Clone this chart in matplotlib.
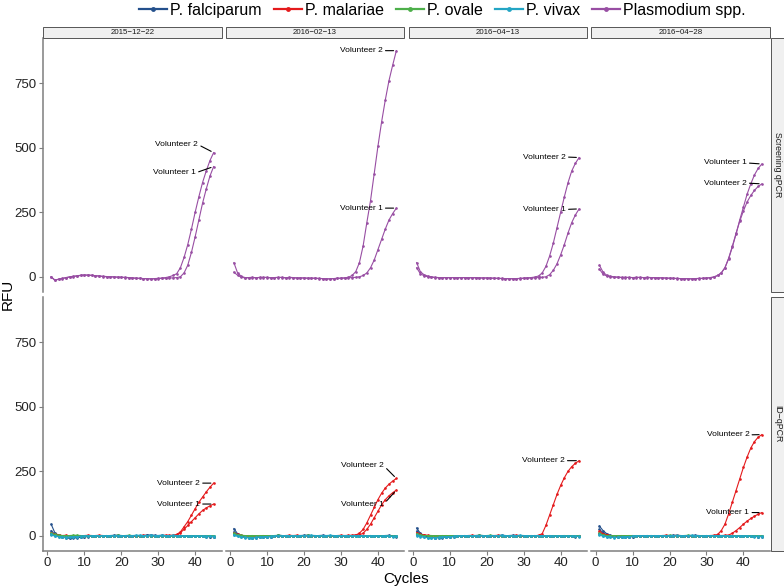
import matplotlib
matplotlib.use('Agg')
import matplotlib.pyplot as plt
from matplotlib.lines import Line2D
from matplotlib.patches import Rectangle

plt.rcParams['font.family'] = ['Liberation Sans', 'DejaVu Sans']

# ---------------- data ----------------
cycles = list(range(1, 46))
dates = ['2015\u221212\u221222', '2016\u221202\u221213', '2016\u221204\u221213', '2016\u221204\u221228']
assays = ['Screening qPCR', 'ID\u2212qPCR']
species = ['P. falciparum', 'P. malariae', 'P. ovale', 'P. vivax', 'Plasmodium spp.']
species_colors = ['#24508c', '#e41a1c', '#4daf4a', '#23a5c4', '#984ea3']
volunteers = ['Volunteer 1', 'Volunteer 2']
x_ticks = [0, 10, 20, 30, 40]
y_ticks = [0, 250, 500, 750]

# Screening qPCR (Plasmodium spp.)
spp_d1_v1 = [0, -12, -10, -7, -4, -1, 1, 3, 5, 6, 6, 5, 4, 3, 2, 1, 0, 0, -1, -2,
             -2, -3, -4, -5, -6, -7, -7, -8, -8, -7, -6, -5, -5, -4, -3, 0, 15, 45, 95, 155,
             220, 285, 340, 390, 427]
spp_d1_v2 = [0, -14, -9, -6, -3, 0, 2, 4, 6, 7, 7, 6, 4, 3, 1, 0, 0, -1, -2, -2,
             -3, -4, -5, -6, -6, -7, -8, -8, -7, -6, -5, -3, 0, 5, 12, 35, 75, 125, 185, 250,
             310, 365, 410, 450, 481]
spp_d2_v1 = [55, 15, 2, -3, -4, -3, -4, -2, -3, -2, -4, -3, -2, -3, -4, -2, -3, -4, -5, -4,
             -5, -6, -5, -6, -7, -8, -8, -7, -6, -6, -5, -4, -3, -2, 0, 5, 15, 35, 65, 105,
             145, 185, 220, 245, 266]
spp_d2_v2 = [18, 6, -2, -4, -3, -2, -4, -3, -2, -3, -4, -3, -3, -2, -4, -3, -4, -5, -4, -5,
             -6, -5, -6, -7, -7, -8, -8, -7, -6, -5, -4, -2, 5, 20, 55, 120, 210, 295, 400, 505,
             600, 685, 760, 820, 876]
spp_d3_v1 = [55, 20, 8, 3, 0, -2, -3, -3, -4, -3, -3, -4, -3, -3, -4, -4, -3, -4, -5, -4,
             -5, -5, -6, -6, -7, -7, -8, -7, -7, -6, -5, -5, -4, -3, -2, 0, 8, 25, 50, 85,
             125, 170, 210, 240, 263]
spp_d3_v2 = [35, 12, 4, 0, -2, -3, -4, -3, -3, -4, -3, -3, -4, -3, -4, -3, -4, -5, -4, -5,
             -5, -6, -6, -7, -7, -8, -7, -7, -6, -5, -4, -3, -1, 3, 15, 40, 80, 130, 190, 250,
             310, 365, 410, 440, 462]
spp_d4_v1 = [45, 18, 6, 2, 0, -1, -2, -2, -3, -3, -2, -3, -3, -2, -3, -3, -4, -4, -5, -5,
             -6, -6, -7, -7, -8, -8, -7, -7, -6, -5, -4, -2, 5, 15, 35, 70, 115, 165, 220, 270,
             320, 360, 395, 420, 437]
spp_d4_v2 = [30, 10, 3, 0, -2, -2, -3, -3, -2, -3, -3, -2, -3, -3, -4, -4, -5, -4, -5, -6,
             -6, -7, -7, -8, -7, -8, -7, -6, -6, -5, -3, 0, 5, 15, 35, 72, 118, 168, 215, 255,
             290, 315, 335, 350, 360]

# ID-qPCR, panel 1
fal_d1_v1 = [45, 12, 2, -5, -8, -10, -9, -8, -6, -5, -3, -2, -1, 0, 1, 0, 1, 2, 1, 0,
             0, 1, 0, -1, 0, 1, 2, 1, 0, 1, 2, 1, 0, -1, 0, 1, 0, -1, -2, -1, 0, -2, -3, -4, -3]
fal_d1_v2 = [20, 6, -1, -4, -6, -7, -6, -5, -4, -3, -2, -1, 0, 1, 0, -1, 0, 1, 2, 1,
             0, -1, 0, 1, 0, 1, 2, 3, 2, 1, 0, 1, 0, 0, 1, 0, -1, 0, -1, -2, -1, -2, -2, -3, -4]
mal_d1_v1 = [12, 6, 3, 1, 0, -1, -2, -1, 0, 1, 2, 1, 0, -1, 0, 1, 0, -1, 0, 1,
             0, -1, -2, -1, 0, 1, 0, 1, 0, -1, 0, 1, 2, 1, 3, 12, 25, 40, 55, 70, 85, 98, 108, 116, 123]
mal_d1_v2 = [8, 4, 2, 1, 2, 0, -1, 0, 1, 0, -1, 0, 1, 2, 1, 0, -1, 0, 1, 0,
             1, 0, -1, 0, 1, 2, 1, 0, -1, 0, 1, 2, 1, 2, 5, 15, 35, 55, 80, 105, 130, 150, 170, 188, 204]
ova_d1_v1 = [10, 5, 2, 1, 0, 1, 2, 1, 0, -1, 0, 1, 0, -1, 0, 1, 0, 1, 2, 1,
             0, -1, 0, 1, 0, -1, 0, 1, 0, 1, 0, -1, 0, 1, 0, 1, 0, -1, 0, 1, 0, -1, 0, 1, 0]
ova_d1_v2 = [6, 3, 1, 0, -1, 0, 1, 2, 1, 0, -1, 0, 1, 0, -1, 0, 1, 0, -1, 0,
             1, 2, 1, 0, -1, 0, 1, 0, -1, 0, 1, 0, -1, 0, 1, 0, -1, 0, 1, 0, -1, 0, 1, 0, -1]
viv_d1_v1 = [5, 0, -3, -5, -6, -5, -4, -3, -2, -1, -1, 0, 0, -1, 0, 1, 0, -1, 0, 1,
             0, 0, 1, 2, 1, 0, 1, 2, 1, 0, -1, 0, 1, 2, 1, 0, -1, -2, -1, 0, -1, -2, -1, -2, -2]
viv_d1_v2 = [3, -1, -4, -6, -7, -6, -5, -4, -3, -2, -1, -1, 0, 1, 0, -1, 0, 1, 0, -1,
             0, 1, 0, 1, 2, 1, 0, 1, 0, 1, 2, 1, 0, 1, 0, -1, 0, -1, -2, -1, -2, -1, -3, -2, -3]

# ID-qPCR, panel 2
fal_d2_v1 = [28, 8, 0, -4, -6, -7, -6, -5, -5, -4, -3, -2, 3, 1, 0, -1, 0, 1, 0, 1,
             2, 1, 0, 1, 2, 1, 0, -1, 0, 1, 0, -1, 0, 1, 0, -1, 0, 1, 0, -1, 0, 1, 2, 0, -1]
fal_d2_v2 = [15, 4, -2, -5, -7, -8, -7, -6, -5, -4, -3, -2, -1, 0, 1, 0, -1, 0, 1, 2,
             1, 0, 1, 0, -1, 0, 1, 0, 1, 0, -1, 0, 1, 2, 1, 0, -1, 0, -1, -2, -1, -2, -1, -2, -3]
mal_d2_v1 = [10, 5, 2, 0, -1, -2, -1, 0, 1, 0, -1, 0, 1, 0, -1, 0, 1, 2, 1, 0,
             -1, 0, 1, 0, -1, 0, 1, 0, -1, 0, 1, 0, 1, 2, 3, 10, 25, 45, 70, 95, 120, 140, 155, 167, 177]
mal_d2_v2 = [7, 3, 1, 0, 1, 0, -1, 0, 1, 0, 1, 0, -1, 0, 1, 2, 1, 0, -1, 0,
             1, 0, 1, 0, -1, 0, 1, 0, 1, 2, 1, 2, 2, 3, 10, 25, 50, 80, 110, 140, 165, 185, 200, 212, 222]
ova_d2_v1 = [9, 4, 2, 1, 0, 1, 0, -1, 0, 1, 0, 1, 2, 1, 0, -1, 0, 1, 0, -1,
             0, 1, 0, 1, 0, -1, 0, 1, 0, -1, 0, 1, 0, -1, 0, 1, 0, 1, 0, -1, 0, 1, 0, -1, 0]
ova_d2_v2 = [5, 2, 0, -1, 0, 1, 0, 1, 0, -1, 0, 1, 0, -1, 0, 1, 0, -1, 0, 1,
             2, 1, 0, -1, 0, 1, 0, -1, 0, 1, 0, -1, 0, 1, 0, -1, 0, 1, 0, -1, 0, 1, 0, -1, 0]
viv_d2_v1 = [4, -1, -4, -6, -7, -8, -7, -6, -5, -4, -3, -2, -1, 0, 1, 0, -1, 0, 1, 0,
             1, 2, 1, 0, -1, 0, 1, 0, -1, 0, 1, 0, -1, 0, 1, 0, -1, 0, -1, -2, -1, 0, -1, -2, -2]
viv_d2_v2 = [2, -2, -5, -7, -8, -7, -6, -5, -4, -3, -2, -1, 0, -1, 0, 1, 0, -1, 0, 1,
             0, 1, 0, -1, 0, 1, 2, 1, 0, -1, 0, 1, 0, 1, 0, -1, -2, -1, 0, -1, -2, -1, -2, -3, -2]

# ID-qPCR, panel 3
fal_d3_v1 = [30, 10, 1, -3, -5, -7, -8, -7, -6, -5, -3, -2, -1, 0, 1, 0, 1, 2, 1, 0,
             -1, 0, 1, 2, 1, 0, 1, 0, -1, 0, 1, 0, 1, 0, -1, -2, -1, 0, -1, -2, -1, -2, -1, -2, -2]
fal_d3_v2 = [18, 5, -1, -4, -6, -7, -6, -5, -4, -3, -2, -1, 0, 1, 0, -1, 0, 1, 0, 1,
             0, -1, 0, 1, 0, 1, 2, 1, 0, -1, 0, 1, 0, 1, 0, -1, 0, -1, -2, -1, -2, -1, -2, -3, -2]
mal_d3_v1 = [12, 6, 3, 2, 1, 0, -1, 0, 1, 0, -1, 0, 1, 0, 1, 2, 1, 0, -1, 0,
             1, 0, -1, 0, 1, 0, 1, 2, 1, 0, -1, 0, 1, 0, -1, 0, 1, 0, -1, 0, 1, 0, -1, 0, 1]
mal_d3_v2 = [8, 4, 2, 1, 0, -1, 0, 1, 0, -1, 0, 1, 0, -1, 0, 1, 0, 1, 0, -1,
             0, 1, 2, 1, 0, -1, 0, 1, 0, -1, 0, 1, 0, 2, 8, 40, 80, 120, 160, 195, 225, 250, 268, 281, 291]
ova_d3_v1 = [8, 4, 1, 0, 1, 0, -1, 0, 1, 0, 1, 0, -1, 0, 1, 0, 1, 2, 1, 0,
             -1, 0, 1, 0, -1, 0, 1, 0, 1, 0, -1, 0, 1, 0, -1, 0, 1, 0, -1, 0, 1, 0, -1, 0, 1]
ova_d3_v2 = [5, 2, 0, 1, 0, -1, 0, 1, 0, 1, 0, -1, 0, 1, 0, -1, 0, 1, 0, 1,
             2, 1, 0, -1, 0, 1, 0, -1, 0, 1, 0, -1, 0, 1, 0, -1, 0, 1, 0, -1, 0, 1, 0, -1, 0]
viv_d3_v1 = [3, -2, -5, -7, -8, -8, -7, -6, -5, -4, -3, -2, -1, 0, -1, 0, 1, 0, -1, 0,
             1, 0, 1, 2, 1, 0, -1, 0, 1, 0, -1, 0, 1, 0, -1, 0, -1, -2, -1, 0, -1, -2, -1, -2, -2]
viv_d3_v2 = [1, -3, -6, -7, -8, -7, -6, -5, -4, -3, -2, -1, 0, 1, 0, -1, 0, 1, 0, -1,
             0, 1, 0, 1, 0, -1, 0, 1, 2, 1, 0, -1, 0, 1, 0, -1, 0, -1, -2, -1, -2, -1, -2, -2, -3]

# ID-qPCR, panel 4
fal_d4_v1 = [38, 20, 8, 2, -2, -4, -5, -5, -4, -3, -2, -1, 0, 1, 0, -1, 0, 1, 0, 1,
             2, 1, 0, -1, 0, 1, 0, -1, 0, 1, 0, 1, 2, 1, 0, -1, 0, -1, -2, -1, -2, -1, -2, -4, -3]
fal_d4_v2 = [25, 12, 4, 0, -3, -5, -6, -5, -4, -3, -2, -1, 0, 1, 0, 1, 0, -1, 0, 1,
             0, 1, 0, -1, 0, 1, 2, 1, 0, -1, 0, 1, 0, -1, 0, 1, 0, -1, 0, -1, -2, -1, -2, -3, -2]
mal_d4_v1 = [18, 8, 3, 1, 0, -1, -2, -1, 0, 1, 0, -1, 0, 1, 0, -1, 0, 1, 2, 1,
             0, -1, 0, 1, 0, -1, 0, 1, 0, 1, 0, 1, 0, 1, 2, 3, 10, 20, 32, 45, 57, 67, 76, 84, 90]
mal_d4_v2 = [12, 5, 2, 0, -1, 0, 1, 0, -1, 0, 1, 0, -1, 0, 1, 0, -1, 0, 1, 0,
             1, 2, 1, 0, -1, 0, 1, 0, -1, 0, 1, 2, 5, 20, 45, 85, 130, 175, 220, 265, 305, 340, 365, 382, 392]
ova_d4_v1 = [10, 4, 1, 0, 1, 0, -1, 0, 1, 0, -1, 0, 1, 0, 1, 0, -1, 0, 1, 2,
             1, 0, -1, 0, 1, 0, -1, 0, 1, 0, 1, 0, -1, 0, 1, 0, -1, 0, 1, 0, -1, 0, 1, 0, -1]
ova_d4_v2 = [6, 2, 0, -1, 0, 1, 0, -1, 0, 1, 0, 1, 0, -1, 0, 1, 0, 1, 0, -1,
             0, 1, 0, 1, 2, 1, 0, -1, 0, 1, 0, -1, 0, 1, 0, -1, 0, 1, 0, -1, 0, 1, 0, -1, 0]
viv_d4_v1 = [5, 0, -3, -5, -6, -6, -5, -4, -3, -2, -1, 0, -1, 0, 1, 0, -1, 0, 1, 0,
             1, 2, 1, 0, -1, 0, 1, 0, -1, 0, 1, 0, 1, 0, -1, 0, -1, -2, -1, 0, -1, -2, -1, -3, -2]
viv_d4_v2 = [3, -2, -4, -6, -7, -6, -5, -4, -3, -2, -1, 0, 1, 0, -1, 0, 1, 0, -1, 0,
             1, 0, -1, 0, 1, 2, 1, 0, -1, 0, 1, 0, -1, 0, 1, 0, -1, -2, -1, -2, -1, -2, -3, -2, -3]

# label anchor positions (cycle, RFU) for each panel: (volunteer index, x, y)
labels_screen = [
    [(1, 40.8, 512), (0, 40.2, 403)],
    [(1, 41.3, 876), (0, 41.3, 266)],
    [(1, 41.4, 464), (0, 41.4, 261)],
    [(0, 40.9, 441), (1, 40.9, 363)],
]
labels_id = [
    [(1, 41.3, 204), (0, 41.3, 123)],
    [(1, 41.6, 271), (0, 41.6, 123)],
    [(1, 41.1, 291)],
    [(1, 41.6, 391), (0, 41.6, 90)],
]

screen_series = [[spp_d1_v1, spp_d1_v2], [spp_d2_v1, spp_d2_v2],
                 [spp_d3_v1, spp_d3_v2], [spp_d4_v1, spp_d4_v2]]
id_series = [
    [[fal_d1_v1, fal_d1_v2], [mal_d1_v1, mal_d1_v2], [ova_d1_v1, ova_d1_v2], [viv_d1_v1, viv_d1_v2]],
    [[fal_d2_v1, fal_d2_v2], [mal_d2_v1, mal_d2_v2], [ova_d2_v1, ova_d2_v2], [viv_d2_v1, viv_d2_v2]],
    [[fal_d3_v1, fal_d3_v2], [mal_d3_v1, mal_d3_v2], [ova_d3_v1, ova_d3_v2], [viv_d3_v1, viv_d3_v2]],
    [[fal_d4_v1, fal_d4_v2], [mal_d4_v1, mal_d4_v2], [ova_d4_v1, ova_d4_v2], [viv_d4_v1, viv_d4_v2]],
]

# ---------------- layout ----------------
W, H = 784, 588
fig = plt.figure(figsize=(W / 100, H / 100), dpi=100)


def rect(x0, y0, x1, y1):
    return [x0 / W, 1 - y1 / H, (x1 - x0) / W, (y1 - y0) / H]


pw = 178.75
gap = 4.0
col_left = [43 + i * (pw + gap) for i in range(4)]
rows_y = [(37.5, 291.5), (296.5, 550.5)]
axis_gray = '#7f7f7f'
strip_fill = '#f0f0f0'
strip_edge = '#555555'
xlim = (-1.2, 47.2)
ylim = (-57, 927)

lw_line = 0.8
ms = 1.9


def draw_label(ax, text, series, tx, ty):
    ax.annotate(text, xy=(cycles[-1], series[-1]), xytext=(tx, ty),
                ha='right', va='center', fontsize=6, color='black',
                arrowprops=dict(arrowstyle='-', color='black', lw=0.8,
                                shrinkA=0, shrinkB=2, relpos=(1, 0.5)),
                annotation_clip=False, zorder=10)


for r, (yt, yb) in enumerate(rows_y):
    for c in range(4):
        ax = fig.add_axes(rect(col_left[c], yt, col_left[c] + pw, yb))
        ax.set_xlim(*xlim)
        ax.set_ylim(*ylim)
        ax.set_facecolor('white')
        for s in ['top', 'right']:
            ax.spines[s].set_visible(False)
        ax.spines['left'].set_visible(c == 0)
        ax.spines['bottom'].set_visible(r == 1)
        for s in ['left', 'bottom']:
            ax.spines[s].set_color(axis_gray)
            ax.spines[s].set_linewidth(1.1)
        ax.set_xticks(x_ticks)
        ax.set_yticks(y_ticks)
        ax.tick_params(axis='both', colors=axis_gray, length=3, width=0.8,
                       labelsize=9.5, labelcolor='#222222', pad=2)
        ax.tick_params(axis='y', left=(c == 0), labelleft=(c == 0))
        ax.tick_params(axis='x', bottom=(r == 1), labelbottom=(r == 1), pad=1.5)

        if r == 0:
            for v in range(2):
                ax.plot(cycles, screen_series[c][v], color=species_colors[4], lw=lw_line,
                        marker='o', ms=ms, mew=0, clip_on=False)
            for (vi, tx, ty) in labels_screen[c]:
                draw_label(ax, volunteers[vi], screen_series[c][vi], tx, ty)
        else:
            for si in range(4):
                for v in range(2):
                    ax.plot(cycles, id_series[c][si][v], color=species_colors[si], lw=lw_line,
                            marker='o', ms=ms, mew=0, clip_on=False)
            for (vi, tx, ty) in labels_id[c]:
                draw_label(ax, volunteers[vi], id_series[c][1][vi], tx, ty)

# top strips (dates)
for c in range(4):
    x0 = col_left[c]
    fig.patches.append(Rectangle((x0 / W, 1 - 37.5 / H), pw / W, 10.5 / H,
                                 transform=fig.transFigure, facecolor=strip_fill,
                                 edgecolor=strip_edge, lw=0.7))
    fig.text((x0 + pw / 2) / W, 1 - 32.2 / H, dates[c], ha='center', va='center',
             fontsize=5.7, color='#1a1a1a')

# right strips (assays)
for r, (yt, yb) in enumerate(rows_y):
    fig.patches.append(Rectangle((771 / W, 1 - yb / H), 16 / W, (yb - yt) / H,
                                 transform=fig.transFigure, facecolor=strip_fill,
                                 edgecolor=strip_edge, lw=0.7))
    fig.text(777.5 / W, 1 - (yt + yb) / 2 / H, assays[r], ha='center', va='center',
             rotation=-90, fontsize=6.3, color='#1a1a1a')

# axis titles
fig.text(8 / W, 1 - 294 / H, 'RFU', rotation=90, ha='center', va='center', fontsize=11)
fig.text(406 / W, 1 - 579 / H, 'Cycles', ha='center', va='center', fontsize=11)

# legend
handles = [Line2D([0], [0], color=col, lw=1.6, marker='o', ms=3.5, mew=0) for col in species_colors]
fig.legend(handles, species, loc='center', bbox_to_anchor=(442.5 / W, 1 - 10.5 / H),
           ncol=5, frameon=False, fontsize=11.5, handlelength=1.75, handletextpad=0.2,
           columnspacing=0.75, borderpad=0, borderaxespad=0)

fig.savefig('out.png', dpi=100)
